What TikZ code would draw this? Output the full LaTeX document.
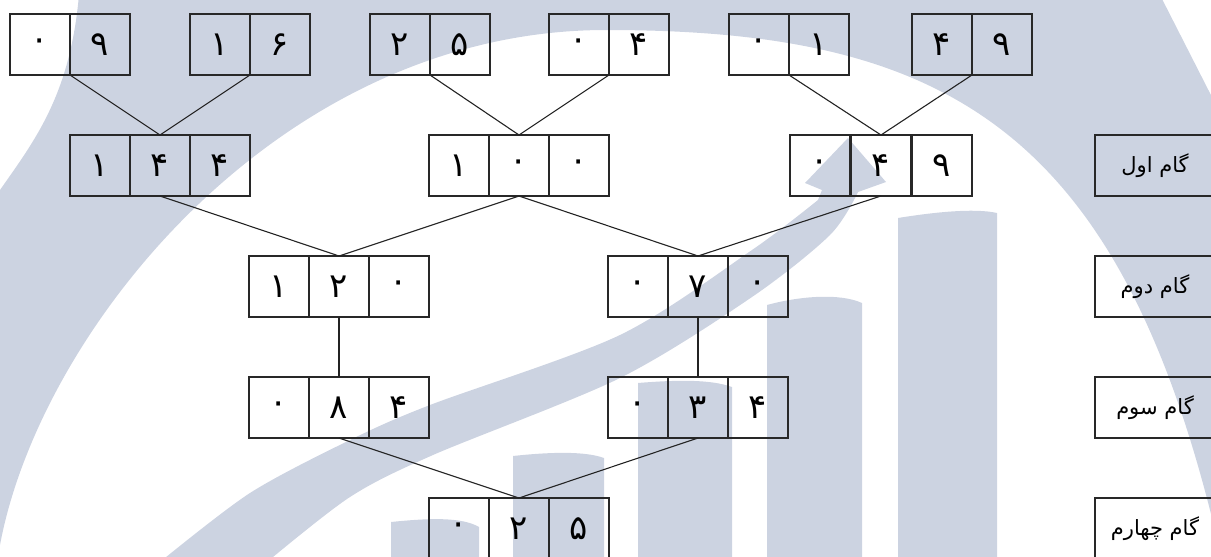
\documentclass[tikz,border=0pt]{standalone}
\usepackage{fontspec}
\TeXXeTstate=1
\newfontfamily\arabicfont[Script=Arabic]{DejaVu Sans}
\newcommand\dgfont{\arabicfont\fontsize{34}{36}\selectfont}
\newcommand\lbfont{\arabicfont\fontsize{21}{23}\selectfont}
\definecolor{wmc}{RGB}{204,211,225}
\definecolor{boxc}{RGB}{40,40,40}
\definecolor{linec}{RGB}{35,35,35}
\begin{document}
\begin{tikzpicture}[x=1pt,y=-1pt,
  wm/.style={fill=wmc},
  cell/.style={draw=boxc, line width=2.2pt, minimum width=60pt, minimum height=61pt, inner sep=0pt, outer sep=0pt, font=\dgfont},
  lab/.style={draw=boxc, line width=2.2pt, minimum width=120pt, minimum height=61pt, inner sep=0pt, outer sep=0pt, font=\lbfont},
  link/.style={draw=linec, line width=1.1pt}]
\useasboundingbox (0,0) rectangle (1211,557);
\begin{scope}
\clip (0,0) rectangle (1211,557);
% watermark ring
\fill[wm] (79,-5) -- (1160,-5) -- (1216,105) -- (1222,560)
  .. controls (1125,130) and (950,30) .. (606,30)
  .. controls (280,30) and (40,330) .. (0,545)
  -- (-10,548) -- (-10,195) -- (0,190)
  .. controls (35,140) and (70,95) .. (79,-5) -- cycle;
% watermark arrow
\fill[wm] plot[smooth] coordinates {(267,562) (350,497) (433,455) (620,378) (752,297) (830,235) (858,192)}
  -- (886,182) -- (848,138) -- (805,183) -- (822,190)
  -- plot[smooth] coordinates {(818,200) (752,250) (620,335) (430,405) (350,440) (250,493) (160,562)} -- cycle;
% watermark bars
\fill[wm] (391,562) -- (391,522) .. controls (430,518) and (462,517) .. (479,527) -- (479,562) -- cycle;
\fill[wm] (513,562) -- (513,456) .. controls (550,452) and (585,451) .. (604,458) -- (604,562) -- cycle;
\fill[wm] (638,562) -- (638,383) .. controls (675,380) and (710,379) .. (732,387) -- (732,562) -- cycle;
\fill[wm] (767,562) -- (767,305) .. controls (800,296) and (840,293) .. (862,303) -- (862,562) -- cycle;
\fill[wm] (898,562) -- (898,218) .. controls (935,212) and (975,208) .. (997,213) -- (997,562) -- cycle;
\end{scope}
% top row
\node[cell] (t1a) at (40,44.5) {۰};   \node[cell] (t1b) at (100,44.5) {۹};
\node[cell] (t2a) at (220,44.5) {۱};  \node[cell] (t2b) at (280,44.5) {۶};
\node[cell] (t3a) at (400,44.5) {۲};  \node[cell] (t3b) at (460,44.5) {۵};
\node[cell] (t4a) at (579,44.5) {۰};  \node[cell] (t4b) at (639,44.5) {۴};
\node[cell] (t5a) at (759,44.5) {۰};  \node[cell] (t5b) at (819,44.5) {۱};
\node[cell] (t6a) at (942,44.5) {۴};  \node[cell] (t6b) at (1002,44.5) {۹};
% level 1
\node[cell] (a1) at (100,165.5) {۱}; \node[cell] (a2) at (160,165.5) {۴}; \node[cell] (a3) at (220,165.5) {۴};
\node[cell] (b1) at (459,165.5) {۱}; \node[cell] (b2) at (519,165.5) {۰}; \node[cell] (b3) at (579,165.5) {۰};
\node[cell] (c1) at (820,165.5) {۰}; \node[cell] (c2) at (881,165.5) {۴}; \node[cell] (c3) at (942,165.5) {۹};
% level 2
\node[cell] (d1) at (279,286.5) {۱}; \node[cell] (d2) at (339,286.5) {۲}; \node[cell] (d3) at (399,286.5) {۰};
\node[cell] (e1) at (638,286.5) {۰}; \node[cell] (e2) at (698,286.5) {۷}; \node[cell] (e3) at (758,286.5) {۰};
% level 3
\node[cell] (f1) at (279,407.5) {۰}; \node[cell] (f2) at (339,407.5) {۸}; \node[cell] (f3) at (399,407.5) {۴};
\node[cell] (g1) at (638,407.5) {۰}; \node[cell] (g2) at (698,407.5) {۳}; \node[cell] (g3) at (758,407.5) {۴};
% level 4
\node[cell] (h1) at (459,528.5) {۰}; \node[cell] (h2) at (519,528.5) {۲}; \node[cell] (h3) at (579,528.5) {۵};
% labels
\node[lab] (l1) at (1155,165.5) {\beginR گام اول\endR};
\node[lab] (l2) at (1155,286.5) {\beginR گام دوم\endR};
\node[lab] (l3) at (1155,407.5) {\beginR گام سوم\endR};
\node[lab] (l4) at (1155,528.5) {\beginR گام چهارم\endR};
% connectors
\draw[link] (t1a.south east) -- (a2.north);
\draw[link] (t2a.south east) -- (a2.north);
\draw[link] (t3a.south east) -- (b2.north);
\draw[link] (t4a.south east) -- (b2.north);
\draw[link] (t5a.south east) -- (c2.north);
\draw[link] (t6a.south east) -- (c2.north);
\draw[link] (a2.south) -- (d2.north);
\draw[link] (b2.south) -- (d2.north);
\draw[link] (b2.south) -- (e2.north);
\draw[link] (c2.south) -- (e2.north);
\draw[link] (d2.south) -- (f2.north);
\draw[link] (e2.south) -- (g2.north);
\draw[link] (f2.south) -- (h2.north);
\draw[link] (g2.south) -- (h2.north);
\end{tikzpicture}
\end{document}
